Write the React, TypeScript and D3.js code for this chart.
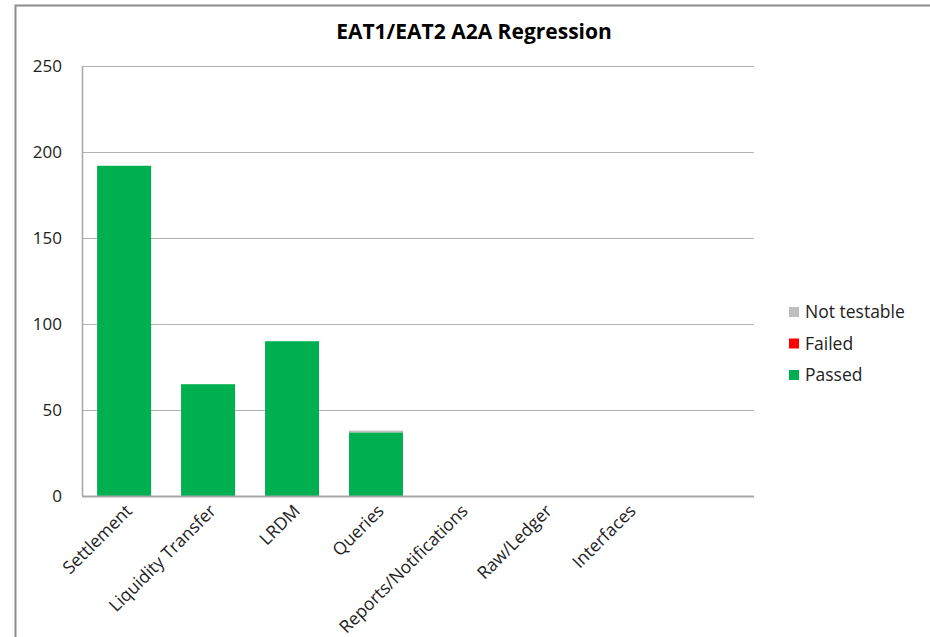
import React, { useEffect, useRef } from "react";
import * as d3 from "d3";

const categories = [
  "Settlement",
  "Liquidity Transfer",
  "LRDM",
  "Queries",
  "Reports/Notifications",
  "Raw/Ledger",
  "Interfaces",
  "",
];
const passed = [192, 65, 90, 37, 0, 0, 0, 0];
const failed = [0, 0, 0, 0, 0, 0, 0, 0];
const notTestable = [0, 0, 0, 1, 0, 0, 0, 0];
const yTicks = [0, 50, 100, 150, 200, 250];

const seriesNames = ["Passed", "Failed", "Not testable"];
const seriesColors = ["#00b050", "#ff0000", "#bfbfbf"];

export default function App() {
  const ref = useRef<SVGSVGElement>(null);

  useEffect(() => {
    const svg = d3.select(ref.current);
    svg.selectAll("*").remove();
    const font = "'Open Sans', Lato, sans-serif";

    const margin = { left: 82, top: 66, right: 176, bottom: 141 };
    const width = 930 - margin.left - margin.right;
    const height = 637 - margin.top - margin.bottom;

    // outer frame (only left/top edges are visible)
    svg.append("path")
      .attr("d", "M15.5,637 L15.5,5.5 L930,5.5")
      .attr("fill", "none")
      .attr("stroke", "#8c8c8c")
      .attr("stroke-width", 2);

    svg.append("text")
      .attr("x", 474)
      .attr("y", 39)
      .attr("text-anchor", "middle")
      .attr("font-family", font)
      .attr("font-weight", "bold")
      .attr("font-size", 21)
      .attr("fill", "#000")
      .text("EAT1/EAT2 A2A Regression");

    const g = svg.append("g").attr("transform", `translate(${margin.left},${margin.top})`);

    const x = d3.scaleBand().domain(categories.map((c, i) => i + "")).range([0, width]).paddingInner(0.357).paddingOuter(0.18);
    const y = d3.scaleLinear().domain([0, 250]).range([height, 0]);

    // gridlines
    g.selectAll(".grid")
      .data(yTicks.filter(t => t > 0))
      .enter().append("line")
      .attr("x1", 0).attr("x2", width)
      .attr("y1", d => Math.round(y(d)) + 0.5).attr("y2", d => Math.round(y(d)) + 0.5)
      .attr("stroke", "#b3b3b3").attr("stroke-width", 1);

    // y tick labels
    g.selectAll(".ytick")
      .data(yTicks)
      .enter().append("text")
      .attr("x", -20)
      .attr("y", d => y(d) + 6)
      .attr("text-anchor", "end")
      .attr("font-family", font)
      .attr("font-size", 17)
      .attr("fill", "#222")
      .text(d => d);

    // stacked bars
    const rows = categories.map((c, i) => ({ key: i + "", Passed: passed[i], Failed: failed[i], "Not testable": notTestable[i] }));
    const stack = d3.stack<any>().keys(seriesNames)(rows);
    stack.forEach((s, si) => {
      g.selectAll(".bar" + si)
        .data(s.filter(d => d[1] - d[0] > 0))
        .enter().append("rect")
        .attr("x", d => x(d.data.key)!)
        .attr("width", x.bandwidth())
        .attr("y", d => y(d[1]))
        .attr("height", d => y(d[0]) - y(d[1]))
        .attr("fill", seriesColors[si]);
    });

    // axes lines
    g.append("line").attr("x1", 0.5).attr("x2", 0.5).attr("y1", 0).attr("y2", height)
      .attr("stroke", "#a6a6a6").attr("stroke-width", 1.5);
    g.append("line").attr("x1", 0).attr("x2", width).attr("y1", height + 0.5).attr("y2", height + 0.5)
      .attr("stroke", "#a6a6a6").attr("stroke-width", 2);

    // category labels
    g.selectAll(".xlab")
      .data(categories)
      .enter().append("text")
      .attr("transform", (d, i) => `translate(${x(i + "")! + x.bandwidth() / 2 + 9},${height + 16}) rotate(-45)`)
      .attr("text-anchor", "end")
      .attr("font-family", font)
      .attr("font-size", 17.5)
      .attr("fill", "#222")
      .text(d => d);

    // legend
    const legendItems = [2, 1, 0];
    const lg = svg.append("g").attr("transform", "translate(789,312)");
    legendItems.forEach((si, k) => {
      lg.append("rect").attr("x", 0).attr("y", k * 31.5 - 5).attr("width", 10).attr("height", 10).attr("fill", seriesColors[si]);
      lg.append("text")
        .attr("x", 16).attr("y", k * 31.5 + 6)
        .attr("font-family", font).attr("font-size", 17.5).attr("fill", "#222")
        .text(seriesNames[si]);
    });
  }, []);

  return (
    <svg ref={ref} width={930} height={637} style={{ position: "absolute", left: 0, top: 0, background: "#fff" }} />
  );
}
